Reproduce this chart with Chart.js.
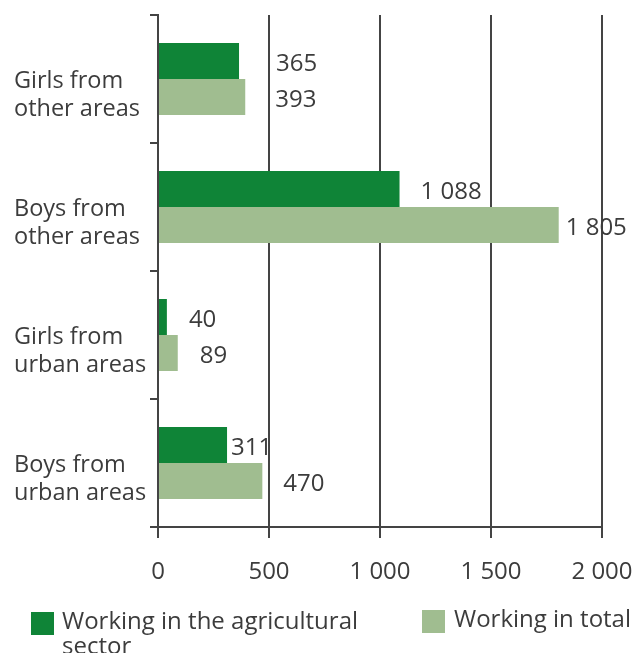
<!DOCTYPE html>
<html>
<head>
<meta charset="utf-8">
<script src="https://cdn.jsdelivr.net/npm/chart.js@4.4.1/dist/chart.umd.min.js"></script>
<style>
    body { margin: 0; background: #fff; }
    #wrap { position: relative; width: 635px; height: 653px; overflow: hidden; }
    #chart { display: block; }
    #legend { position: absolute; left: 0; top: 0; font-family: "Open Sans", sans-serif; font-size: 24px; color: #3c3c3c; }
    .sw { position: absolute; width: 23px; height: 23px; }
    .txt { position: absolute; white-space: nowrap; line-height: 25px; }
</style>
</head>
<body>
<div id="wrap">
    <canvas id="chart" width="635" height="653"></canvas>
    <div id="legend">
        <div class="sw" style="left:31px; top:612px; background:#0f8437"></div>
        <div class="txt" style="left:62px; top:607px">Working in the agricultural<br>sector</div>
        <div class="sw" style="left:422px; top:610px; background:#a0bd90"></div>
        <div class="txt" style="left:454px; top:605px">Working in total</div>
    </div>
</div>
<script>
// ======================================
// DATA
// ======================================
const categories = [
    ["Girls from", "other areas"],
    ["Boys from", "other areas"],
    ["Girls from", "urban areas"],
    ["Boys from", "urban areas"]
];
const agriculture = [365, 1088, 40, 311];
const total = [393, 1805, 89, 470];
const xTicks = [0, 500, 1000, 1500, 2000];

// gap between bar end and its value label (px), as in the original layout
const agriGap = [37, 21, 22, 4];
const totalGap = [30, 7, 22, 21];

const TEXT = "#3c3c3c";
const LINE = "#444444";
const FONT = "'Open Sans', sans-serif";

const fmt = (v) => String(v).replace(/\B(?=(\d{3})+(?!\d))/g, " ");

// ======================================
// VALUE LABELS
// ======================================
const valueLabels = {
    id: "valueLabels",
    afterDatasetsDraw(chart) {
        const c = chart.ctx;
        c.save();
        c.font = "24px " + FONT;
        c.fillStyle = TEXT;
        c.textAlign = "left";
        c.textBaseline = "middle";
        chart.data.datasets.forEach((ds, di) => {
            const gaps = di === 0 ? agriGap : totalGap;
            chart.getDatasetMeta(di).data.forEach((bar, i) => {
                c.fillText(fmt(ds.data[i]), bar.x + gaps[i], bar.y + 3);
            });
        });
        c.restore();
    }
};

// ======================================
// CHART
// ======================================
new Chart(document.getElementById("chart"), {
    type: "bar",
    data: {
        labels: categories,
        datasets: [
            {
                label: "Working in the agricultural sector",
                data: agriculture,
                backgroundColor: "#0f8437",
                categoryPercentage: 0.5625,
                barPercentage: 1
            },
            {
                label: "Working in total",
                data: total,
                backgroundColor: "#a0bd90",
                categoryPercentage: 0.5625,
                barPercentage: 1
            }
        ]
    },
    options: {
        indexAxis: "y",
        responsive: false,
        animation: false,
        layout: { padding: { top: 15, right: 33, left: 14, bottom: 0 } },
        plugins: {
            legend: { display: false },
            tooltip: { enabled: false }
        },
        scales: {
            x: {
                min: 0,
                max: 2000,
                afterBuildTicks: (s) => { s.ticks = xTicks.map(v => ({ value: v })); },
                afterFit: (s) => {
                    s.height = 653 - 527;
                    s.paddingLeft = 0;
                    s.paddingRight = 0;
                },
                grid: { color: LINE, lineWidth: 2, tickLength: 11, drawOnChartArea: true },
                border: { display: true, color: LINE, width: 2 },
                ticks: {
                    color: TEXT,
                    font: { family: FONT, size: 24 },
                    padding: 20,
                    callback: (v) => fmt(v)
                }
            },
            y: {
                afterFit: (s) => {
                    s.width = 158 - 14;
                    s.paddingTop = 0;
                    s.paddingBottom = 0;
                },
                grid: { color: LINE, lineWidth: 2, tickLength: 8, drawOnChartArea: false, offset: true },
                border: { display: true, color: LINE, width: 2 },
                ticks: {
                    color: TEXT,
                    font: { family: FONT, size: 23.5, lineHeight: 1.19 },
                    padding: 8,
                    labelOffset: 16,
                    crossAlign: "far"
                }
            }
        }
    },
    plugins: [valueLabels]
});
</script>
</body>
</html>
